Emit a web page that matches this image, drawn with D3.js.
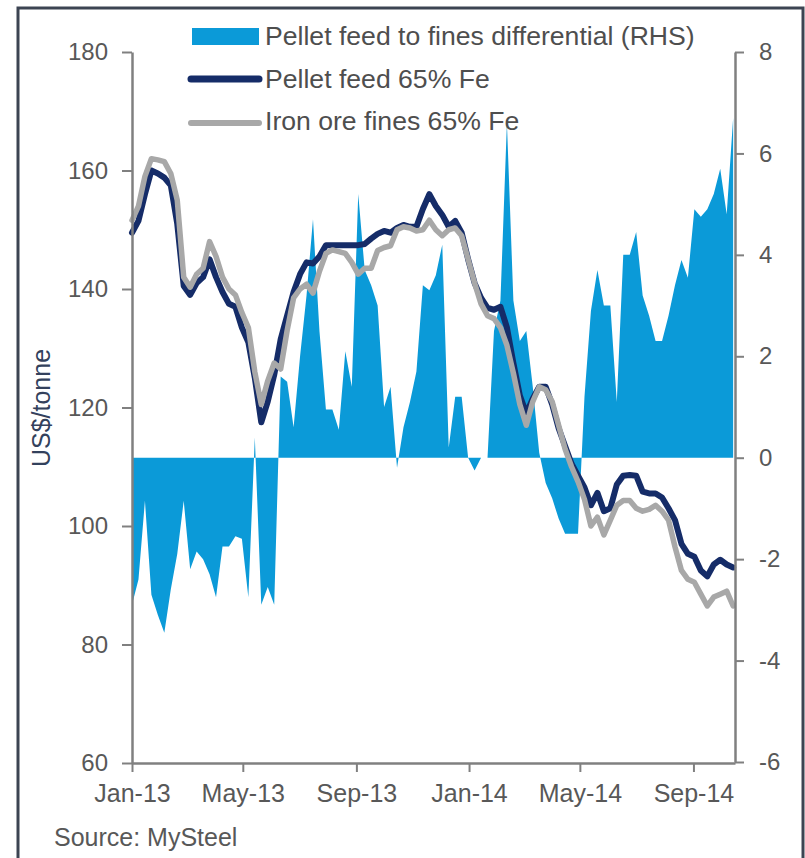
<!DOCTYPE html>
<html>
<head>
<meta charset="utf-8">
<script src="https://cdn.jsdelivr.net/npm/d3@7"></script>
<style>
  html, body { margin: 0; padding: 0; background: #ffffff; }
  svg { display: block; font-family: "Liberation Sans", Arial, sans-serif; }
</style>
</head>
<body>
<svg id="chart" width="805" height="858"></svg>
<script>
// Weekly observations, Jan 2013 – Oct 2014
const weeks = [
  "2013-01-01","2013-01-08","2013-01-15","2013-01-22","2013-01-29",
  "2013-02-05","2013-02-12","2013-02-19","2013-02-26",
  "2013-03-05","2013-03-12","2013-03-19","2013-03-26",
  "2013-04-02","2013-04-09","2013-04-16","2013-04-23","2013-04-30",
  "2013-05-07","2013-05-14","2013-05-21","2013-05-28",
  "2013-06-04","2013-06-11","2013-06-18","2013-06-25",
  "2013-07-02","2013-07-09","2013-07-16","2013-07-23","2013-07-30",
  "2013-08-06","2013-08-13","2013-08-20","2013-08-27",
  "2013-09-03","2013-09-10","2013-09-17","2013-09-24",
  "2013-10-01","2013-10-08","2013-10-15","2013-10-22","2013-10-29",
  "2013-11-05","2013-11-12","2013-11-19","2013-11-26",
  "2013-12-03","2013-12-10","2013-12-17","2013-12-24","2013-12-31",
  "2014-01-07","2014-01-14","2014-01-21","2014-01-28",
  "2014-02-04","2014-02-11","2014-02-18","2014-02-25",
  "2014-03-04","2014-03-11","2014-03-18","2014-03-25",
  "2014-04-01","2014-04-08","2014-04-15","2014-04-22","2014-04-29",
  "2014-05-06","2014-05-13","2014-05-20","2014-05-27",
  "2014-06-03","2014-06-10","2014-06-17","2014-06-24",
  "2014-07-01","2014-07-08","2014-07-15","2014-07-22","2014-07-29",
  "2014-08-05","2014-08-12","2014-08-19","2014-08-26",
  "2014-09-02","2014-09-09","2014-09-16","2014-09-23","2014-09-30",
  "2014-10-07","2014-10-14"
];

// Pellet feed 65% Fe, US$/tonne (LHS)
const pelletFeed = [
  149.5,151.5,156,160,159.5,158.8,157.5,151,140.5,139,141,142,145,
  142,139.5,137.5,137,133.5,131,125,117.5,121,125.5,131.5,135.5,139.5,
  142.5,144.5,144.3,145.5,147.4,147.4,147.4,147.4,147.4,147.4,147.6,148.5,
  149.3,149.8,149.5,150.3,150.8,150.5,150.5,153.5,156,154,152.5,150.5,
  151.5,149.5,145,141,138.5,136.8,136.5,137,133.5,127.5,122,119,121.5,
  123.5,123.5,120.5,116.5,113.5,110.5,108.5,106.5,103.5,105.6,102.5,103,
  107,108.5,108.6,108.5,105.8,105.5,105.5,104.8,103,101,97,95.3,94.8,
  92.5,91.5,93.5,94.3,93.5,93
];

// Iron ore fines 65% Fe, US$/tonne (LHS)
const ironOreFines = [
  151.6,154,159,162,161.8,161.5,159.5,155,142,140.3,142.5,143.5,148,
  145.5,142,140,139,136,133.5,126,120.5,124.5,127.5,126.5,133,138.5,
  140,140.8,139.3,143,146,146.6,146.3,146,144.5,142.5,143.5,143.5,
  146.5,147,147.3,150,150.5,150.3,149.8,150,151.6,150,149,150,
  150.3,149,145,141,137.5,135.5,135,133.5,130.5,125.8,120.5,117,121,
  123.5,123,121,117,113,110,107.5,104.5,100,101.5,98.5,101,
  103.5,104.3,104.3,103,102.5,102.8,103.5,102.5,101,96.5,92.5,91,90.5,
  88.5,86.5,88,88.5,89,86.5
];

// Pellet feed to fines differential, US$/tonne (RHS)
const differential = [
  -2.9,-2.4,-0.85,-2.7,-3.1,-3.45,-2.6,-1.9,-0.85,-2.2,-1.85,-2.0,-2.3,
  -2.75,-1.75,-1.75,-1.55,-1.6,-2.75,0.4,-2.9,-2.55,-2.9,1.6,1.5,0.6,
  2.0,3.2,4.7,2.5,0.95,0.95,0.55,2.1,1.4,5.2,3.7,3.4,
  3.0,1.0,1.4,-0.2,0.6,1.1,1.7,3.4,3.3,3.6,4.2,0.2,
  1.2,1.2,0.0,-0.25,0.0,0.0,2.5,3.1,6.6,3.1,2.3,2.5,1.4,
  0.1,-0.5,-0.8,-1.2,-1.5,-1.5,-1.5,1.2,2.9,3.7,3.0,3.0,
  1.1,4.0,4.0,4.45,3.2,2.8,2.3,2.3,2.8,3.4,3.9,3.55,4.9,
  4.75,4.9,5.2,5.7,4.8,6.7
];

const leftTicks = [60, 80, 100, 120, 140, 160, 180];
const rightTicks = [-6, -4, -2, 0, 2, 4, 6, 8];

const seriesNames = [
  "Pellet feed to fines differential (RHS)",
  "Pellet feed 65% Fe",
  "Iron ore fines 65% Fe"
];
const yAxisTitle = "US$/tonne";
const sourceNote = "Source: MySteel";

const colors = {
  area: "#0b9ad8",
  pellet: "#152c68",
  fines: "#a8a8a8",
  axis: "#808080",
  text: "#585858",
  frame: "#3c4452"
};

const parse = d3.timeParse("%Y-%m-%d");
const dates = weeks.map(parse);

const svg = d3.select("#chart");

// Outer frame
svg.append("rect")
  .attr("x", 18).attr("y", 8)
  .attr("width", 785).attr("height", 860)
  .attr("fill", "#ffffff")
  .attr("stroke", colors.frame)
  .attr("stroke-width", 3);

const plot = { left: 132, right: 735, top: 52, bottom: 763 };

const x = d3.scaleTime()
  .domain([parse("2013-01-01"), parse("2014-10-16")])
  .range([plot.left, plot.right]);
const yL = d3.scaleLinear().domain([60, 180]).range([plot.bottom, plot.top]);
const yR = d3.scaleLinear().domain([-6, 8]).range([plot.bottom - 1, plot.top]);

// Differential as a filled area around zero on the right-hand scale
const area = d3.area()
  .x((d, i) => x(dates[i]))
  .y0(yR(0))
  .y1(d => yR(d));
svg.append("path")
  .datum(differential)
  .attr("d", area)
  .attr("fill", colors.area);

const line = d3.line()
  .x((d, i) => x(dates[i]))
  .y(d => yL(d));

svg.append("path")
  .datum(pelletFeed)
  .attr("d", line)
  .attr("fill", "none")
  .attr("stroke", colors.pellet)
  .attr("stroke-width", 6)
  .attr("stroke-linejoin", "round")
  .attr("stroke-linecap", "round");

svg.append("path")
  .datum(ironOreFines)
  .attr("d", line)
  .attr("fill", "none")
  .attr("stroke", colors.fines)
  .attr("stroke-width", 5.5)
  .attr("stroke-linejoin", "round")
  .attr("stroke-linecap", "round");

function styleAxis(g, fontSize) {
  g.select(".domain").attr("stroke", colors.axis).attr("stroke-width", 2.5);
  g.selectAll(".tick line").attr("stroke", colors.axis).attr("stroke-width", 2);
  g.selectAll(".tick text")
    .attr("fill", colors.text)
    .style("font-size", fontSize + "px")
    .style("font-family", "'Liberation Sans', Arial, sans-serif");
}

const axisLeft = d3.axisLeft(yL)
  .tickValues(leftTicks)
  .tickSize(10).tickSizeOuter(0).tickPadding(14)
  .tickFormat(d => String(d));
svg.append("g")
  .attr("transform", `translate(${plot.left},0)`)
  .call(axisLeft)
  .call(g => styleAxis(g, 24));

const axisRight = d3.axisRight(yR)
  .tickValues(rightTicks)
  .tickSize(9).tickSizeOuter(0).tickPadding(15)
  .tickFormat(d => String(d));
svg.append("g")
  .attr("transform", `translate(${plot.right},0)`)
  .call(axisRight)
  .call(g => styleAxis(g, 24));

const axisBottom = d3.axisBottom(x)
  .ticks(d3.timeMonth.every(4))
  .tickSize(9).tickSizeOuter(0).tickPadding(12)
  .tickFormat(d3.timeFormat("%b-%y"));
svg.append("g")
  .attr("transform", `translate(0,${plot.bottom})`)
  .call(axisBottom)
  .call(g => styleAxis(g, 25));

// Y-axis title
svg.append("text")
  .attr("transform", "translate(50,408) rotate(-90)")
  .attr("text-anchor", "middle")
  .attr("fill", "#33415c")
  .style("font-size", "25px")
  .text(yAxisTitle);

// Source note
svg.append("text")
  .attr("x", 54).attr("y", 846)
  .attr("fill", colors.text)
  .style("font-size", "25px")
  .text(sourceNote);

// Legend
const legend = svg.append("g");
legend.append("rect")
  .attr("x", 192).attr("y", 28)
  .attr("width", 67).attr("height", 17)
  .attr("fill", colors.area);
legend.append("line")
  .attr("x1", 191).attr("x2", 259).attr("y1", 79).attr("y2", 79)
  .attr("stroke", colors.pellet).attr("stroke-width", 7)
  .attr("stroke-linecap", "round");
legend.append("line")
  .attr("x1", 191).attr("x2", 259).attr("y1", 123).attr("y2", 123)
  .attr("stroke", colors.fines).attr("stroke-width", 6)
  .attr("stroke-linecap", "round");

const legendBaselines = [45, 88, 130];
seriesNames.forEach((name, i) => {
  legend.append("text")
    .attr("x", 265).attr("y", legendBaselines[i])
    .attr("fill", "#4e4e4e")
    .style("font-size", "26.6px")
    .text(name);
});
</script>
</body>
</html>
